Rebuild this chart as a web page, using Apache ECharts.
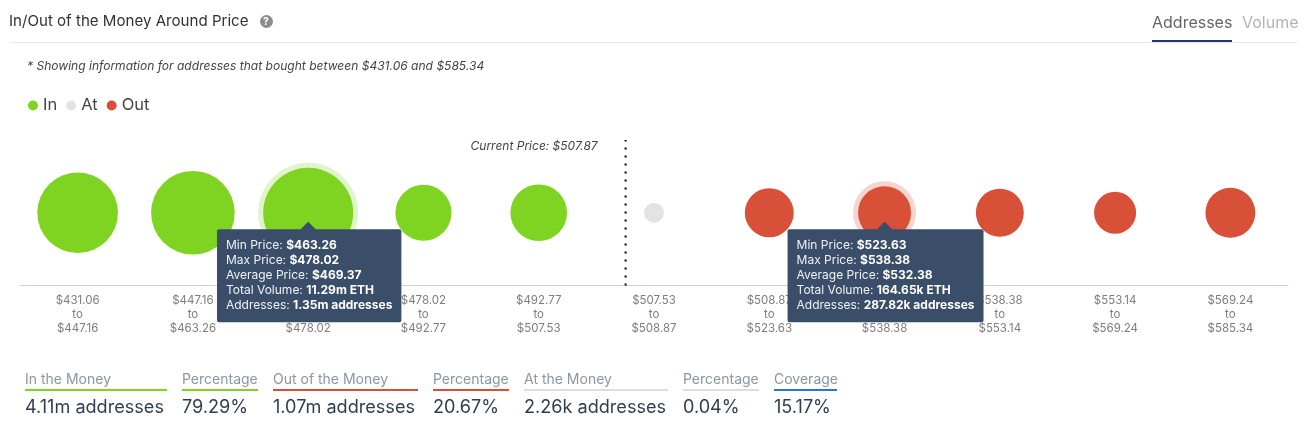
<!DOCTYPE html>
<html>
<head>
<meta charset="utf-8">
<title>In/Out of the Money Around Price</title>
<script src="https://cdn.jsdelivr.net/npm/echarts@6/dist/echarts.min.js"></script>
<style>
  html, body { margin: 0; padding: 0; background: #fff; }
  #chart { width: 1303px; height: 444px; }
</style>
</head>
<body>
<div id="chart"></div>
<script>
// values, addresses in thousands
const minPrices = ["$431.06", "$447.16", "$463.26", "$478.02", "$492.77", "$507.53", "$508.87", "$523.63", "$538.38", "$553.14", "$569.24"];
const maxPrices = ["$447.16", "$463.26", "$478.02", "$492.77", "$507.53", "$508.87", "$523.63", "$538.38", "$553.14", "$569.24", "$585.34"];
const addresses = [980, 1090, 1350, 340, 350, 2.26, 228, 287.82, 214, 146, 240];
const zones = ["In", "In", "In", "In", "In", "At", "Out", "Out", "Out", "Out", "Out"];
const zoneNames = ["In", "At", "Out"];
const zoneColors = { In: "#7ed420", At: "#e3e3e3", Out: "#d95038" };

const calloutBins = [2, 7];
const calloutAverages = ["$469.37", "$532.38"];
const calloutVolumes = ["11.29m ETH", "164.65k ETH"];
const calloutAddresses = ["1.35m addresses", "287.82k addresses"];

// current price sits inside the $507.53 - $508.87 bin
const currentPrice = 507.87;
const currentBin = 5;
const currentBinLow = 507.53;
const currentBinHigh = 508.87;

const statLabels = ["In the Money", "Percentage", "Out of the Money", "Percentage", "At the Money", "Percentage", "Coverage"];
const statValues = ["4.11m addresses", "79.29%", "1.07m addresses", "20.67%", "2.26k addresses", "0.04%", "15.17%"];
const statColors = ["#7ed420", "#7ed420", "#d95038", "#d95038", "#dddddd", "#dddddd", "#2f6fed"];
const statLefts = [25, 182, 273, 433, 524, 683, 774];
const statWidths = [142, 76, 145, 76, 144, 76, 63];

const FONT = "Inter";
const chart = echarts.init(document.getElementById("chart"));

// bubble diameter grows slowly with the address count
function bubbleSize(value) {
    return Math.max(20, 90 * Math.pow(value / 1350, 0.342));
}

function calloutText(bin, i) {
    const row = (name, value) => `{t|${name}: }{b|${value}}`;
    return [
        row("Min Price", minPrices[bin]),
        row("Max Price", maxPrices[bin]),
        row("Average Price", calloutAverages[i]),
        row("Total Volume", calloutVolumes[i]),
        row("Addresses", calloutAddresses[i])
    ].join("\n");
}

const zoneSeries = zoneNames.map(zone => ({
    name: zone,
    type: "scatter",
    z: 3,
    silent: true,
    itemStyle: { color: zoneColors[zone], opacity: 1 },
    symbolSize: v => bubbleSize(v[2]),
    data: addresses
        .map((v, i) => ({ zone: zones[i], value: [i, 0, v] }))
        .filter(d => d.zone === zone)
        .map(d => ({ value: d.value }))
}));

const haloSeries = {
    type: "scatter",
    z: 2,
    silent: true,
    symbolSize: v => bubbleSize(v[2]) + 10,
    data: calloutBins.map(bin => ({
        value: [bin, 0, addresses[bin]],
        itemStyle: { color: zoneColors[zones[bin]], opacity: 0.24 }
    }))
};

const calloutSeries = {
    type: "scatter",
    z: 5,
    silent: true,
    symbol: "triangle",
    symbolSize: [16, 8],
    symbolOffset: [0, 13],
    itemStyle: { color: "#3a4d69", opacity: 1 },
    data: calloutBins.map((bin, i) => ({
        value: [bin, 0],
        label: {
            show: true,
            position: "inside",
            offset: [1, 50],
            formatter: calloutText(bin, i),
            backgroundColor: "#3a4d69",
            borderRadius: 2,
            padding: [9, 9, 9, 9],
            rich: {
                t: { fontFamily: FONT, fontSize: 12, lineHeight: 15, color: "#f0f2f5", align: "left" },
                b: { fontFamily: FONT, fontSize: 12, lineHeight: 15, color: "#ffffff", fontWeight: "bold", align: "left" }
            }
        }
    }))
};

const currentX = currentBin + (currentPrice - currentBinLow) / (currentBinHigh - currentBinLow);
const currentSeries = {
    type: "line",
    xAxisIndex: 1,
    z: 4,
    silent: true,
    symbol: "circle",
    symbolSize: 0,
    showSymbol: true,
    lineStyle: { color: "#000", width: 2, type: [2, 6] },
    data: [
        { value: [currentX, -1] },
        {
            value: [currentX, 1],
            label: {
                show: true,
                position: "left",
                distance: 28,
                offset: [0, 6],
                formatter: "Current Price: $" + currentPrice.toFixed(2),
                fontFamily: FONT,
                fontStyle: "italic",
                fontSize: 12,
                color: "#444"
            }
        }
    ]
};

const statGraphics = [];
statLabels.forEach((label, i) => {
    statGraphics.push({
        type: "text", left: statLefts[i], top: 373,
        style: { text: label, font: `14px ${FONT}`, fill: "#8b96a2" }
    });
    statGraphics.push({
        type: "rect", left: statLefts[i], top: 389,
        shape: { width: statWidths[i], height: 2 },
        style: { fill: statColors[i] }
    });
    statGraphics.push({
        type: "text", left: statLefts[i], top: 399,
        style: { text: statValues[i], font: `18.1px ${FONT}`, fill: "#2f3f50" }
    });
});

const option = {
    animation: false,
    backgroundColor: "#fff",
    textStyle: { fontFamily: FONT },
    legend: {
        left: 23, top: 92,
        data: zoneNames,
        icon: "circle",
        itemWidth: 10, itemHeight: 10, itemGap: 9,
        selectedMode: false,
        textStyle: { fontFamily: FONT, fontSize: 16.5, color: "#444" }
    },
    grid: { left: 20, right: 15, top: 140, bottom: 158.5 },
    xAxis: [
        {
            type: "category",
            data: minPrices.map((p, i) => `${p}\nto\n${maxPrices[i]}`),
            boundaryGap: true,
            axisLine: { onZero: false, lineStyle: { color: "#c9d3dc", width: 1 } },
            axisTick: { show: false },
            axisLabel: {
                interval: 0, margin: 8,
                fontFamily: FONT, fontSize: 11.5, lineHeight: 14, color: "#7d7d7d"
            },
            splitLine: { show: false }
        },
        { type: "value", min: 0, max: minPrices.length, show: false }
    ],
    yAxis: { type: "value", min: -1, max: 1, show: false },
    series: [haloSeries, ...zoneSeries, calloutSeries, currentSeries],
    graphic: [
        { type: "text", left: 9, top: 14, style: { text: "In/Out of the Money Around Price", font: `15.1px ${FONT}`, fill: "#333" } },
        { type: "circle", left: 260, top: 15, shape: { r: 6.5 }, style: { fill: "#8c8c8c" } },
        { type: "text", left: 263, top: 16, style: { text: "?", font: `bold 10.5px ${FONT}`, fill: "#fff" } },
        { type: "rect", left: 10, top: 42, shape: { width: 1287, height: 1 }, style: { fill: "#e3e8ef" } },
        { type: "text", left: 1152, top: 15, style: { text: "Addresses", font: `16px ${FONT}`, fill: "#666" } },
        { type: "text", left: 1242, top: 15, style: { text: "Volume", font: `16px ${FONT}`, fill: "#b3b3b3" } },
        { type: "rect", left: 1152, top: 40, shape: { width: 80, height: 2 }, style: { fill: "#1f3474" } },
        { type: "text", left: 27, top: 60, style: { text: "* Showing information for addresses that bought between $431.06 and $585.34", font: `italic 12.05px ${FONT}`, fill: "#444" } },
        ...statGraphics
    ]
};

chart.setOption(option);
</script>
</body>
</html>
